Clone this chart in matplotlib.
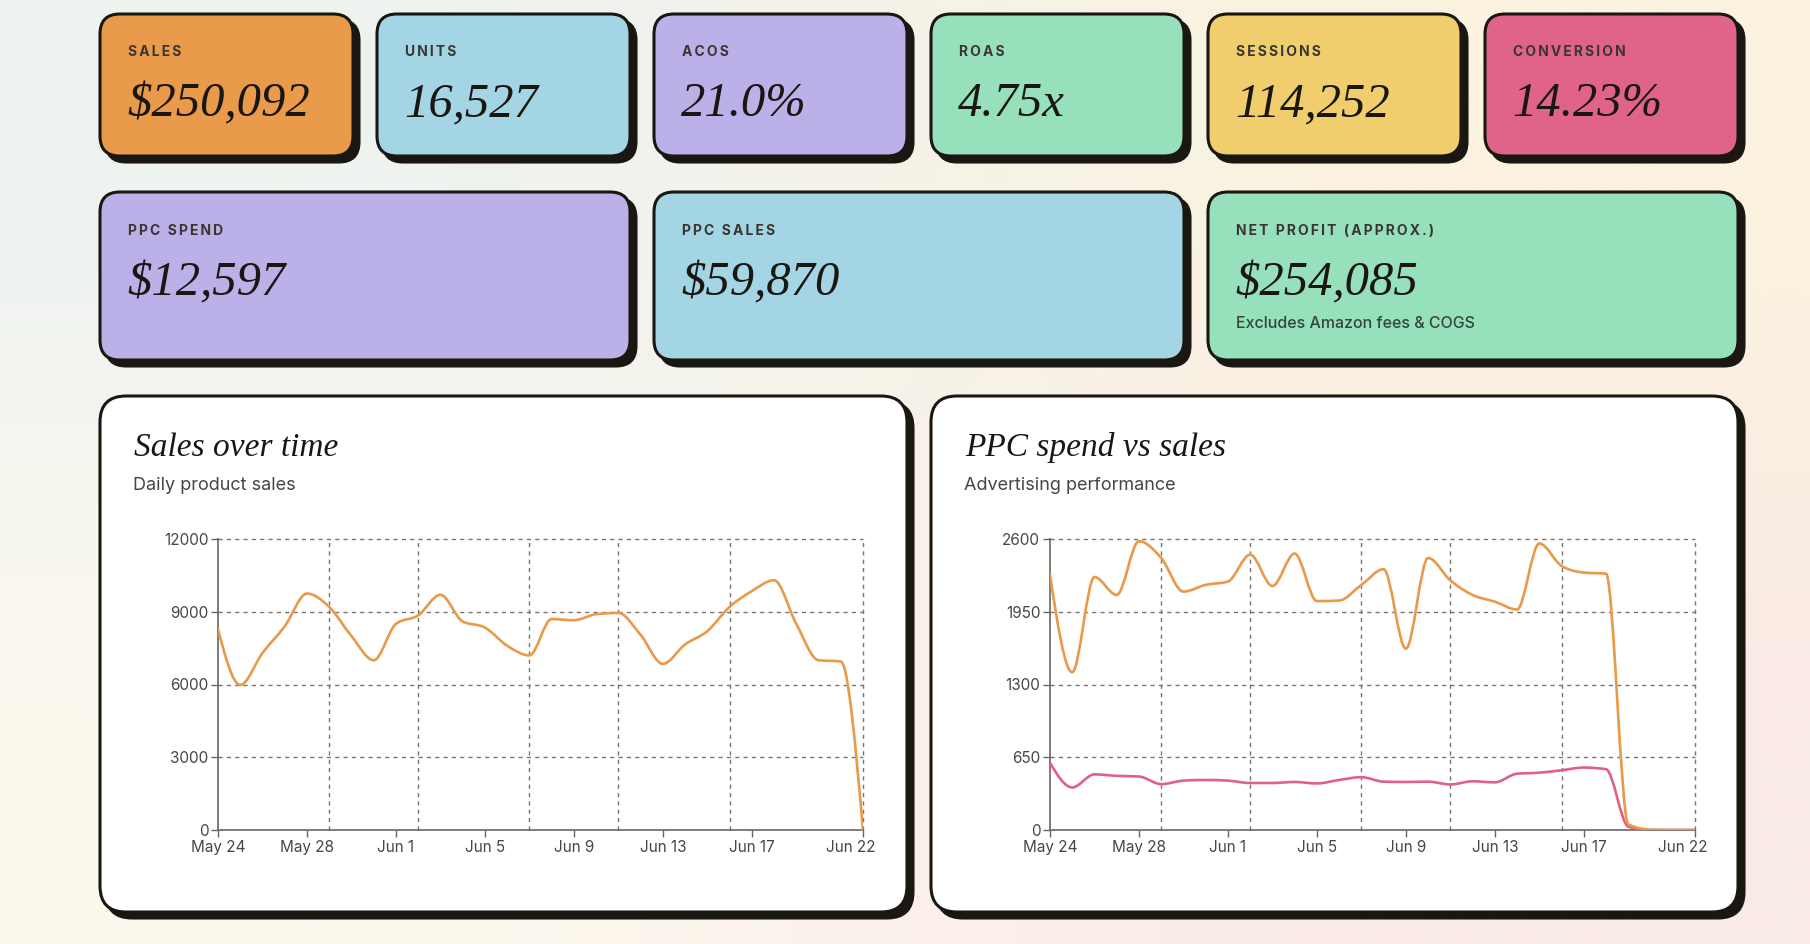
import numpy as np
import matplotlib.pyplot as plt
from matplotlib.patches import FancyBboxPatch, PathPatch
from matplotlib.path import Path
from matplotlib.transforms import ScaledTranslation

# KPI cards
top_labels = ["SALES", "UNITS", "ACOS", "ROAS", "SESSIONS", "CONVERSION"]
top_values = ["$250,092", "16,527", "21.0%", "4.75x", "114,252", "14.23%"]
top_colors = ["#E99A4A", "#A3D5E5", "#BBB0E8", "#96E0BB", "#F0CD6D", "#E06488"]

mid_labels = ["PPC SPEND", "PPC SALES", "NET PROFIT (APPROX.)"]
mid_values = ["$12,597", "$59,870", "$254,085"]
mid_colors = ["#BBB0E8", "#A3D5E5", "#96E0BB"]
mid_note = "Excludes Amazon fees & COGS"

# daily series, May 24 .. Jun 22
days = list(range(30))
sales = [8270, 5980, 7300, 8400, 9750, 9200, 8000, 7000, 8500, 8850,
         9700, 8600, 8350, 7600, 7200, 8700, 8650, 8900, 8950, 8050,
         6850, 7650, 8200, 9200, 9850, 10300, 8500, 7000, 6950, 0]
ppc_sales = [2280, 1410, 2260, 2100, 2580, 2430, 2130, 2190, 2220, 2460,
             2180, 2470, 2045, 2050, 2190, 2330, 1620, 2430, 2230, 2100,
             2040, 1970, 2560, 2360, 2300, 2290, 50, 3, 0, 0]
ppc_spend = [600, 380, 497, 484, 478, 410, 441, 447, 441, 420,
             420, 429, 416, 447, 472, 432, 429, 432, 407, 435,
             426, 503, 512, 534, 558, 543, 30, 0, 0, 0]

tick_days = [0, 4, 8, 12, 16, 20, 24, 29]
tick_labels = ["May 24", "May 28", "Jun 1", "Jun 5", "Jun 9", "Jun 13", "Jun 17", "Jun 22"]
grid_days = [5, 9, 14, 18, 23, 29]

INK = "#1A1612"
LABEL = "#3A3530"
SANS = ["Inter", "DejaVu Sans"]
SERIF = ["Liberation Serif", "DejaVu Serif"]

W, H = 1810, 944
fig = plt.figure(figsize=(W / 100, H / 100), dpi=100)
bg = fig.add_axes([0, 0, 1, 1])
bg.set_xlim(0, W)
bg.set_ylim(H, 0)
bg.axis("off")

# soft background gradient
grad = np.array([[[0xEE, 0xF3, 0xF0], [0xFB, 0xF2, 0xDF]],
                 [[0xFC, 0xF8, 0xEE], [0xF9, 0xEA, 0xE6]]]) / 255
bg.imshow(grad, extent=(0, W, H, 0), interpolation="bilinear", aspect="auto", zorder=0)


def card(x, y, w, h, color, r=20, off=6):
    shadow = FancyBboxPatch((x + off + r, y + off + r), w - 2 * r, h - 2 * r,
                            boxstyle=f"round,pad={r}", fc=INK, ec=INK, lw=2.2, zorder=1)
    box = FancyBboxPatch((x + r, y + r), w - 2 * r, h - 2 * r,
                         boxstyle=f"round,pad={r}", fc=color, ec=INK, lw=2.2, zorder=2)
    bg.add_patch(shadow)
    bg.add_patch(box)


def spaced(s):
    return "\u2009".join(s)


# top row
cw, gap = 253, 24
for i, (lab, val, col) in enumerate(zip(top_labels, top_values, top_colors)):
    x = 100 + i * (cw + gap)
    card(x, 14, cw, 142, col)
    bg.text(x + 28, 52, spaced(lab), family=SANS, fontsize=10, fontweight="bold",
            color=LABEL, va="center", zorder=3)
    bg.text(x + 27, 116, val, family=SERIF, style="italic", fontsize=35,
            color=INK, va="baseline", zorder=3)

# second row
mw = 530
for i, (lab, val, col) in enumerate(zip(mid_labels, mid_values, mid_colors)):
    x = 100 + i * (mw + gap)
    card(x, 192, mw, 168, col)
    bg.text(x + 28, 231, spaced(lab), family=SANS, fontsize=10, fontweight="bold",
            color=LABEL, va="center", zorder=3)
    bg.text(x + 27, 295, val, family=SERIF, style="italic", fontsize=35,
            color=INK, va="baseline", zorder=3)
bg.text(100 + 2 * (mw + gap) + 28, 324, mid_note, family=SANS, fontsize=11.5,
        fontweight="medium", color="#34463A", va="center", zorder=3)

# chart panels
pw = 807
titles = ["Sales over time", "PPC spend vs sales"]
subs = ["Daily product sales", "Advertising performance"]
for i in range(2):
    x = 100 + i * (pw + 24)
    card(x, 396, pw, 516, "#FFFFFF", r=26)
    bg.text(x + 34, 456, titles[i], family=SERIF, style="italic", fontsize=24,
            color=INK, va="baseline", zorder=3)
    bg.text(x + 33, 486, subs[i], family=SANS, fontsize=13, color="#4A4540",
            va="center", zorder=3)


def monotone_path(xs, ys):
    # bezier segments like d3 curveMonotoneX
    xs = np.asarray(xs, float)
    ys = np.asarray(ys, float)
    n = len(xs)
    h = np.diff(xs)
    s = np.diff(ys) / h
    t = np.zeros(n)
    for k in range(1, n - 1):
        p = (s[k - 1] * h[k] + s[k] * h[k - 1]) / (h[k - 1] + h[k])
        t[k] = (np.sign(s[k - 1]) + np.sign(s[k])) * min(abs(s[k - 1]), abs(s[k]), 0.5 * abs(p))
    t[0] = (3 * s[0] - t[1]) / 2
    t[-1] = (3 * s[-1] - t[-2]) / 2
    verts = [(xs[0], ys[0])]
    codes = [Path.MOVETO]
    for k in range(n - 1):
        dx = h[k] / 3
        verts += [(xs[k] + dx, ys[k] + dx * t[k]),
                  (xs[k + 1] - dx, ys[k + 1] - dx * t[k + 1]),
                  (xs[k + 1], ys[k + 1])]
        codes += [Path.CURVE4] * 3
    return Path(verts, codes)


def chart(left_px, ymax, series, colors):
    ax = fig.add_axes([left_px / W, (H - 830) / H, 645 / W, 291 / H])
    ax.set_facecolor("none")
    ax.set_xlim(0, 29)
    ax.set_ylim(0, ymax)
    yt = np.linspace(0, ymax, 5)
    ax.set_yticks(yt)
    ax.set_yticklabels([f"{v:.0f}" for v in yt])
    ax.set_xticks(tick_days)
    ax.set_xticklabels(tick_labels)
    for v in yt[1:]:
        ax.axhline(v, color="#7A7570", lw=1, ls=(0, (3, 3)), zorder=1, clip_on=False)
    for d in grid_days:
        ax.axvline(d, color="#7A7570", lw=1, ls=(0, (3, 3)), zorder=1, clip_on=False)
    for sp in ["top", "right"]:
        ax.spines[sp].set_visible(False)
    for sp in ["left", "bottom"]:
        ax.spines[sp].set_color("#6A6560")
        ax.spines[sp].set_linewidth(1.2)
    ax.tick_params(length=5, width=1, color="#6A6560", labelcolor="#4A4540",
                   labelsize=11, pad=2)
    for lab in ax.get_xticklabels() + ax.get_yticklabels():
        lab.set_family(SANS)
    last = ax.get_xticklabels()[-1]
    last.set_transform(last.get_transform() + ScaledTranslation(-0.12, 0, fig.dpi_scale_trans))
    for ys, c in zip(series, colors):
        ax.add_patch(PathPatch(monotone_path(days, ys), fc="none", ec=c, lw=1.9,
                               capstyle="round", joinstyle="round", zorder=3))
    return ax


chart(218, 12000, [sales], ["#E9994A"])
chart(1050, 2600, [ppc_spend, ppc_sales], ["#E0608A", "#E9994A"])

fig.savefig("out.png", dpi=100)
